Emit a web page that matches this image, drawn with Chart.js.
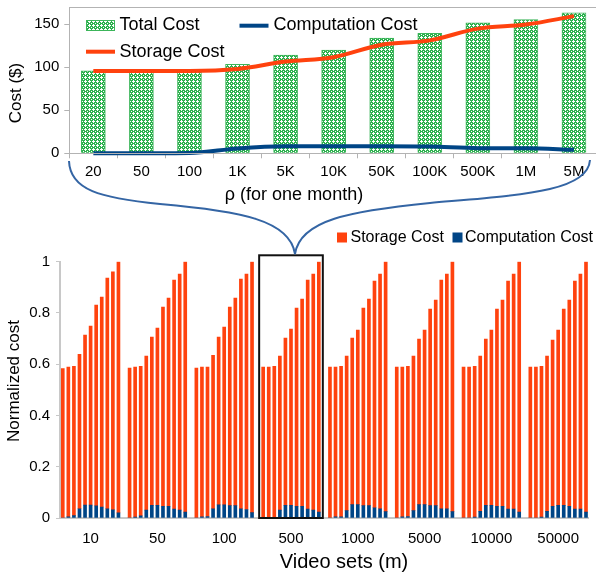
<!DOCTYPE html>
<html><head><meta charset="utf-8">
<script src="https://cdn.jsdelivr.net/npm/chart.js@4.4.1/dist/chart.umd.min.js"></script>
<style>
html,body{margin:0;padding:0;width:596px;height:575px;overflow:hidden;background:#fff;}
#wrap{position:relative;width:596px;height:575px;overflow:hidden;}
canvas{position:absolute;left:0;}
#c1{top:0}
#c2{top:225px}
svg{position:absolute;left:0;top:0;pointer-events:none}
</style></head><body>
<div id="wrap">
<canvas id="c1" width="598" height="205"></canvas>
<canvas id="c2" width="598" height="350"></canvas>
<svg width="596" height="575"><path d="M69,161 C70,190 100,198 160,204 C240,211 290,220 295,254 M295,254 C300,220 350,211 430,203 C520,195 588,192 590,160" fill="none" stroke="#3465a4" stroke-width="2"/></svg>
</div>
<script>
// ---- top chart data ----
const rhoLabels = ['20','50','100','1K','5K','10K','50K','100K','500K','1M','5M'];
const totalCost = [95.7, 95.7, 95.7, 103.5, 114.1, 119.9, 134.0, 139.5, 151.6, 155.5, 163.3];
const storageCost = [95.7, 95.7, 95.7, 98.0, 106.6, 111.7, 126.2, 131.2, 144.9, 149.6, 159.4];
const computationCost = [0, 0, 0.3, 5.7, 8.2, 8.2, 8.2, 7.8, 6.0, 5.9, 4.0];

// ---- bottom chart data ----
const videoSets = ['10','50','100','500','1000','5000','10000','50000'];
const normTotal = [
  [0.583,0.589,0.592,0.639,0.714,0.749,0.831,0.862,0.936,0.960,1.0],
  [0.585,0.589,0.592,0.632,0.706,0.741,0.823,0.858,0.928,0.952,1.0],
  [0.585,0.589,0.589,0.635,0.706,0.745,0.823,0.858,0.932,0.952,1.0],
  [0.589,0.589,0.592,0.632,0.702,0.737,0.819,0.854,0.928,0.952,1.0],
  [0.589,0.589,0.592,0.632,0.702,0.733,0.819,0.854,0.924,0.952,1.0],
  [0.589,0.589,0.592,0.632,0.698,0.733,0.815,0.850,0.928,0.952,1.0],
  [0.589,0.589,0.592,0.632,0.698,0.733,0.815,0.850,0.924,0.952,1.0],
  [0.589,0.589,0.592,0.632,0.694,0.733,0.815,0.850,0.924,0.952,1.0]
];
const normComputation = [
  [0.000,0.005,0.009,0.036,0.050,0.050,0.047,0.043,0.036,0.032,0.020],
  [0.000,0.004,0.008,0.031,0.049,0.049,0.046,0.046,0.035,0.031,0.023],
  [0.000,0.005,0.006,0.036,0.051,0.051,0.048,0.048,0.036,0.033,0.021],
  [0.000,0.000,0.002,0.031,0.049,0.049,0.046,0.046,0.035,0.031,0.023],
  [0.000,0.005,0.005,0.029,0.052,0.052,0.048,0.048,0.040,0.036,0.025],
  [0.000,0.005,0.006,0.029,0.052,0.052,0.048,0.048,0.036,0.036,0.025],
  [0.000,0.000,0.004,0.026,0.049,0.049,0.046,0.046,0.035,0.035,0.023],
  [0.000,0.000,0.004,0.026,0.046,0.049,0.049,0.046,0.035,0.035,0.023]
];
const highlightGroup = '500';

Chart.defaults.font.family = "'Liberation Sans', Arial, sans-serif";
Chart.defaults.color = '#000';
Chart.defaults.animation = false;

function makePattern() {
  const c = document.createElement('canvas'); c.width = 4; c.height = 4;
  const g = c.getContext('2d');
  g.fillStyle = '#2cb14e'; g.fillRect(0,0,4,4);
  g.fillStyle = '#ffffff';
  [[1,0],[0,1],[1,1],[2,1],[1,2],[3,3]].forEach(p => g.fillRect(p[0],p[1],1,1));
  return g.createPattern(c,'repeat');
}

// custom legend drawn from dataset labels/colours
const legendPlugin = {
  id: 'posLegend',
  afterDraw(chart, args, opts) {
    const ctx = chart.ctx;
    ctx.save();
    (opts.items || []).forEach(it => {
      const ds = chart.data.datasets[it.ds];
      if (it.kind === 'box') {
        ctx.fillStyle = ds.backgroundColor;
        ctx.fillRect(it.x, it.y, it.w, it.h);
        if (it.border) { ctx.strokeStyle = ds.borderColor; ctx.lineWidth = 1; ctx.strokeRect(it.x+0.5, it.y+0.5, it.w-1, it.h-1); }
      } else {
        ctx.strokeStyle = ds.borderColor; ctx.lineWidth = ds.borderWidth;
        ctx.beginPath(); ctx.moveTo(it.x, it.y); ctx.lineTo(it.x + it.w, it.y); ctx.stroke();
      }
      ctx.fillStyle = '#000';
      ctx.font = opts.size + "px 'Liberation Sans', Arial, sans-serif";
      ctx.textBaseline = 'middle'; ctx.textAlign = 'left';
      ctx.fillText(ds.label, it.tx, it.ty);
    });
    ctx.restore();
  }
};
// axis titles placed where the reference has them
const titlePlugin = {
  id: 'posTitles',
  afterDraw(chart, args, opts) {
    const ctx = chart.ctx;
    ctx.save();
    (opts.items || []).forEach(it => {
      ctx.save();
      ctx.translate(it.x, it.y);
      ctx.rotate(it.rot || 0);
      ctx.fillStyle = '#000';
      ctx.font = it.size + "px 'Liberation Sans', Arial, sans-serif";
      ctx.textAlign = 'center'; ctx.textBaseline = 'middle';
      ctx.fillText(it.text, 0, 0);
      ctx.restore();
    });
    ctx.restore();
  }
};
const framePlugin = {
  id: 'frame',
  afterDraw(chart, args, opts) {
    if (!opts.show) return;
    const a = chart.chartArea, ctx = chart.ctx;
    ctx.save(); ctx.strokeStyle = '#b3b3b3'; ctx.lineWidth = 1;
    ctx.strokeRect(Math.round(a.left)+0.5, Math.round(a.top)+0.5, Math.round(a.right-a.left)-1, Math.round(a.bottom-a.top));
    ctx.restore();
  }
};
const boxPlugin = {
  id: 'groupBox',
  afterDatasetsDraw(chart, args, opts) {
    if (opts.group == null) return;
    const x = chart.scales.x, y = chart.scales.y, ctx = chart.ctx;
    const i0 = opts.group * 12, i1 = i0 + 10;
    const l = x.getPixelForValue(i0) - 4, r = x.getPixelForValue(i1) + 4;
    const t = y.getPixelForValue(1.025), b = y.getPixelForValue(0);
    ctx.save(); ctx.strokeStyle = '#111'; ctx.lineWidth = 2;
    ctx.strokeRect(l, t, r - l, b - t);
    ctx.restore();
  }
};

// ---------- top chart ----------
new Chart(document.getElementById('c1'), {
  data: {
    labels: rhoLabels,
    datasets: [
      {type:'bar', label:'Total Cost', data: totalCost, backgroundColor: makePattern(), borderColor:'#3cb55a', borderWidth:1, barThickness:24, order:3},
      {type:'line', label:'Computation Cost', data: computationCost, borderColor:'#004586', backgroundColor:'#004586', borderWidth:4, pointRadius:0, cubicInterpolationMode:'monotone', clip:false, order:2},
      {type:'line', label:'Storage Cost', data: storageCost, borderColor:'#ff420e', backgroundColor:'#ff420e', borderWidth:4, pointRadius:0, cubicInterpolationMode:'monotone', clip:false, order:1}
    ]
  },
  options: {
    responsive:false, devicePixelRatio:1,
    layout:{padding:{top:7, right:0, bottom:0, left:0}},
    plugins:{
      legend:{display:false}, tooltip:{enabled:false},
      frame:{show:true},
      posLegend:{size:18, items:[
        {ds:0, kind:'box', x:86, y:20, w:29, h:11, border:true, tx:119.5, ty:25.5},
        {ds:1, kind:'line', x:239.5, y:25.7, w:29, tx:273.5, ty:25.5},
        {ds:2, kind:'line', x:86, y:51.7, w:29, tx:119.5, ty:52}
      ]},
      posTitles:{items:[
        {text:'Cost ($)', x:16, y:93, rot:-Math.PI/2, size:17},
        {text:'ρ (for one month)', x:294, y:195, size:18}
      ]}
    },
    scales:{
      x:{offset:true, grid:{offset:true, drawOnChartArea:false, tickLength:5, color:'#b3b3b3'}, border:{display:false},
         ticks:{font:{size:15}, padding:5, maxRotation:0, autoSkip:false},
         afterFit: s => { s.height = 205 - 153.3; s.paddingLeft = 0; s.paddingRight = 0; }},
      y:{min:0, max:170, grid:{drawOnChartArea:false, tickLength:5, color:'#b3b3b3'}, border:{display:false},
         ticks:{stepSize:50, font:{size:15}, padding:5},
         afterBuildTicks: s => { s.ticks = s.ticks.filter(t => t.value % 50 === 0); },
         afterFit: s => { s.width = 69.3; s.paddingTop = 0; s.paddingBottom = 0; }}
    }
  },
  plugins:[legendPlugin, titlePlugin, framePlugin]
});

// ---------- bottom chart ----------
const slotLabels = [], compData = [], storData = [];
videoSets.forEach((name, g) => {
  for (let i = 0; i < 11; i++) {
    slotLabels.push(i === 5 ? name : '');
    compData.push(normComputation[g][i]);
    storData.push(+(normTotal[g][i] - normComputation[g][i]).toFixed(3));
  }
  if (g < videoSets.length - 1) { slotLabels.push(''); compData.push(null); storData.push(null); }
});

new Chart(document.getElementById('c2'), {
  type:'bar',
  data:{
    labels: slotLabels,
    datasets:[
      {label:'Computation Cost', data: compData, backgroundColor:'#004586', barThickness:3},
      {label:'Storage Cost', data: storData, backgroundColor:'#ff420e', barThickness:3}
    ]
  },
  options:{
    responsive:false, devicePixelRatio:1,
    layout:{padding:{top:36.7, right:0, bottom:0, left:0}},
    plugins:{
      legend:{display:false}, tooltip:{enabled:false},
      groupBox:{group: videoSets.indexOf(highlightGroup)},
      posLegend:{size:16, items:[
        {ds:1, kind:'box', x:337, y:7.5, w:10, h:10, tx:350.5, ty:12.5},
        {ds:0, kind:'box', x:452.5, y:7.5, w:10, h:10, tx:465, ty:12.5}
      ]},
      posTitles:{items:[
        {text:'Normalized cost', x:14, y:156, rot:-Math.PI/2, size:17},
        {text:'Video sets (m)', x:344, y:337, size:20}
      ]}
    },
    scales:{
      x:{stacked:true, offset:true, grid:{display:false, drawTicks:false}, border:{display:true, color:'#c8c8c8', width:2},
         ticks:{autoSkip:false, maxRotation:0, minRotation:0, font:{size:15}, padding:12},
         afterFit: s => { s.height = 57; }},
      y:{stacked:true, min:0, max:1, grid:{drawOnChartArea:false, tickLength:4, color:'#c8c8c8'}, border:{display:true, color:'#c8c8c8', width:2},
         ticks:{stepSize:0.2, font:{size:15}, padding:6, callback: v => String(+(+v).toFixed(1))},
         afterFit: s => { s.width = 60; s.paddingTop = 0; s.paddingBottom = 0; }}
    }
  },
  plugins:[legendPlugin, titlePlugin, boxPlugin]
});
</script>
</body></html>
